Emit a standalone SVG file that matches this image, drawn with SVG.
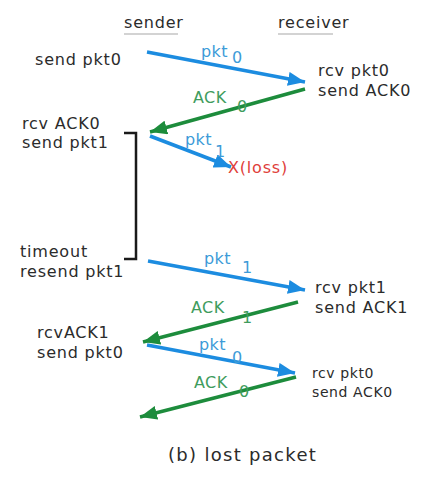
<svg xmlns="http://www.w3.org/2000/svg" width="429" height="484" viewBox="0 0 429 484">
<style>
text{font-family:"DejaVu Sans","Liberation Sans",sans-serif;font-size:16px;letter-spacing:0.8px;fill:#2b2b2b}
.bl{fill:#3d9bd8;letter-spacing:0.4px}
.gl{fill:#3f9c5d;letter-spacing:0.4px}
.red{fill:#e0403a}
.sm{font-size:14px;letter-spacing:0.6px}
.cap{font-size:18px;letter-spacing:1.3px}
.pkt{stroke:#1c8ce0;stroke-width:3.5;fill:none;marker-end:url(#ab)}
.ack{stroke:#1d8c3c;stroke-width:3.5;fill:none;marker-end:url(#ag)}
.ul{stroke:#c4c4c4;stroke-width:1.5}
</style>
<defs>
<marker id="ab" markerUnits="userSpaceOnUse" markerWidth="17" markerHeight="14" refX="17" refY="7" orient="auto"><path d="M0,0 L17,7 L0,14 Z" fill="#1c8ce0"/></marker>
<marker id="ag" markerUnits="userSpaceOnUse" markerWidth="17" markerHeight="14" refX="17" refY="7" orient="auto"><path d="M0,0 L17,7 L0,14 Z" fill="#1d8c3c"/></marker>
</defs>
<rect width="429" height="484" fill="#ffffff"/>
<g id="sender">
<text x="124" y="28">sender</text>
<line class="ul" x1="124" y1="34" x2="178" y2="34"/>
</g>
<g id="receiver">
<text x="278" y="28">receiver</text>
<line class="ul" x1="278" y1="34" x2="333" y2="34"/>
</g>
<g id="s1"><text x="35" y="65">send pkt0</text></g>
<g id="r1"><text x="318" y="76" letter-spacing="1.6">rcv pkt0</text><text x="318" y="96" letter-spacing="1.3">send ACK0</text></g>
<g id="s2"><text x="22" y="129">rcv ACK0</text><text x="22" y="148">send pkt1</text></g>
<g id="loss"><text class="red" x="228" y="173">X(loss)</text></g>
<g id="s3"><text x="20" y="257">timeout</text><text x="20" y="277">resend pkt1</text></g>
<g id="r2"><text x="315" y="293">rcv pkt1</text><text x="315" y="313">send ACK1</text></g>
<g id="s4"><text x="37" y="338">rcvACK1</text><text x="37" y="358">send pkt0</text></g>
<g id="r3"><text class="sm" x="312" y="378">rcv pkt0</text><text class="sm" x="312" y="397">send ACK0</text></g>
<g id="caption"><text class="cap" x="168" y="461">(b) lost packet</text></g>
<g id="timer"><path d="M124,133 H136 V259 H124" fill="none" stroke="#1a1a1a" stroke-width="2.5"/></g>
<g id="connectors">
<line class="pkt" x1="147" y1="52" x2="305" y2="82"/>
<text class="bl" x="201" y="57">pkt</text><text class="bl" x="232" y="63">0</text>
<line class="ack" x1="305" y1="89" x2="150" y2="132"/>
<text class="gl" x="193" y="103">ACK</text><text class="gl" x="237" y="112">0</text>
<line class="pkt" x1="150" y1="136" x2="231" y2="167"/>
<text class="bl" x="185" y="145">pkt</text><text class="bl" x="215" y="157">1</text>
<line class="pkt" x1="148" y1="261" x2="305" y2="290"/>
<text class="bl" x="204" y="264">pkt</text><text class="bl" x="242" y="273">1</text>
<line class="ack" x1="298" y1="302" x2="143" y2="342"/>
<text class="gl" x="191" y="313">ACK</text><text class="gl" x="242" y="323">1</text>
<line class="pkt" x1="147" y1="345" x2="295" y2="373"/>
<text class="bl" x="199" y="350">pkt</text><text class="bl" x="232" y="363">0</text>
<line class="ack" x1="296" y1="377" x2="140" y2="417"/>
<text class="gl" x="194" y="388">ACK</text><text class="gl" x="239" y="397">0</text>
</g>
</svg>
